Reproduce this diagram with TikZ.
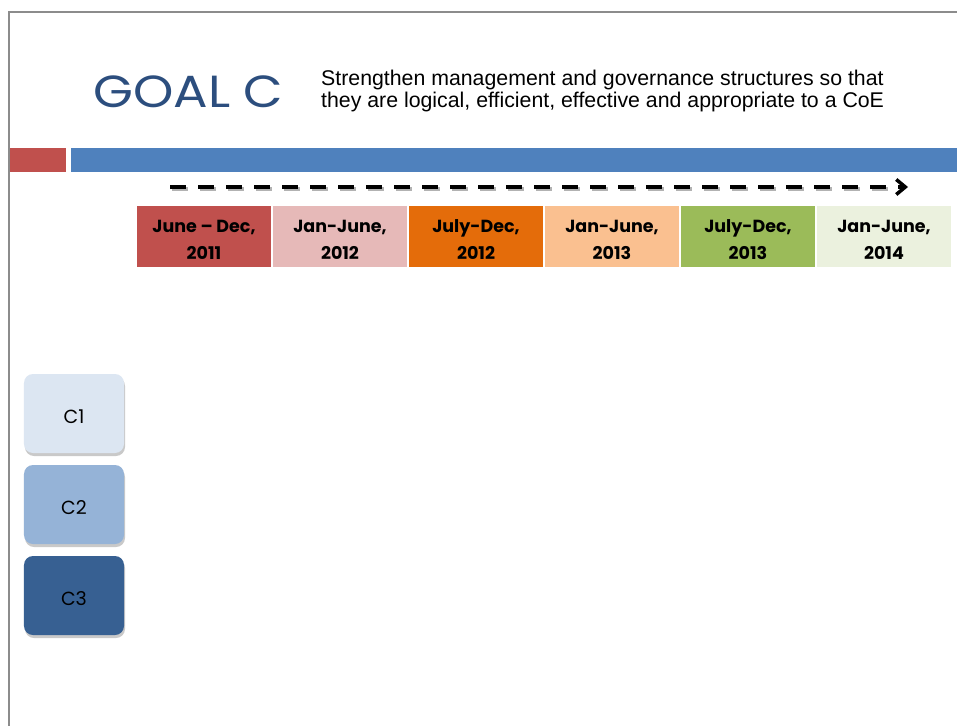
\documentclass[tikz,border=0pt]{standalone}
\usepackage{fontspec}
\setmainfont{Liberation Sans}
\newfontfamily\gothic{Poppins}
\usetikzlibrary{arrows.meta,shadows}
\definecolor{goalblue}{HTML}{2C4E7E}
\definecolor{barblue}{HTML}{4F81BD}
\definecolor{barred}{HTML}{C0504D}
\definecolor{tA}{HTML}{C0504D}
\definecolor{tB}{HTML}{E6B9B8}
\definecolor{tC}{HTML}{E46C0A}
\definecolor{tD}{HTML}{FAC090}
\definecolor{tE}{HTML}{9BBB59}
\definecolor{tF}{HTML}{EBF1DE}
\definecolor{cA}{HTML}{DCE6F2}
\definecolor{cB}{HTML}{95B3D7}
\definecolor{cC}{HTML}{376092}
\definecolor{frame}{HTML}{8C8C8C}
\newcommand{\twoline}[2]{\raisebox{-8.5bp}[0pt][0pt]{\begin{tabular}{@{}c@{}}#1\\#2\end{tabular}}}
\newcommand{\clabel}[1]{\raisebox{-10bp}[0pt][0pt]{#1}}
\tikzset{
  period/.style={minimum width=134bp, minimum height=61bp, inner sep=0pt,
    font=\gothic\bfseries\fontsize{17.5bp}{27bp}\selectfont, text=black},
  cbox/.style={rounded corners=9bp, minimum width=100bp, minimum height=79bp, inner sep=0pt,
    font=\gothic\fontsize{19bp}{20bp}\selectfont, text=black,
    drop shadow={shadow xshift=1bp, shadow yshift=-3bp, opacity=0.35, fill=black!60}},
}
\begin{document}
\begin{tikzpicture}[x=1bp,y=-1bp]
\useasboundingbox (0,0) rectangle (957,726);
\fill[white] (0,0) rectangle (957,726);
% frame
\draw[frame, line width=1.8bp] (9,727) -- (9,12) -- (958,12);
% title
\node[anchor=base west, inner sep=0pt, xscale=1.14, text=goalblue, font=\gothic\fontsize{45bp}{45bp}\selectfont] (goal) at (93,108) {GOAL C};
\node[anchor=base west, inner sep=0pt, align=left, font=\fontsize{21.3bp}{22bp}\selectfont] (desc) at (321,108)
  {Strengthen management and governance structures so that\\they are logical, efficient, effective and appropriate to a CoE};
% bars
\fill[barred] (10,148) rectangle (66,172);
\fill[barblue] (71,148) rectangle (957,172);
% dashed arrow
\coordinate (as) at (170,187);
\coordinate (ae) at (908,187);
\draw[black!30, line width=4bp, dash pattern=on 16bp off 12bp] ([shift={(1.5,2)}]as) -- ([shift={(-16,2)}]ae);
\draw[black, line width=4bp, dash pattern=on 16bp off 12bp, -{Straight Barb[length=9bp,width=15bp,line width=3.5bp]}] (as) -- (ae);
% periods
\node[period, fill=tA] (p1) at (204,236.5) {\twoline{June – Dec,}{2011}};
\node[period, fill=tB] (p2) at (340,236.5) {\twoline{Jan-June,}{2012}};
\node[period, fill=tC] (p3) at (476,236.5) {\twoline{July-Dec,}{2012}};
\node[period, fill=tD] (p4) at (612,236.5) {\twoline{Jan-June,}{2013}};
\node[period, fill=tE] (p5) at (748,236.5) {\twoline{July-Dec,}{2013}};
\node[period, fill=tF] (p6) at (884,236.5) {\twoline{Jan-June,}{2014}};
% C boxes
\node[cbox, fill=cA] (c1) at (74,413.5) {\clabel{C1}};
\node[cbox, fill=cB] (c2) at (74,504.5) {\clabel{C2}};
\node[cbox, fill=cC] (c3) at (74,595.5) {\clabel{C3}};
\end{tikzpicture}
\end{document}
